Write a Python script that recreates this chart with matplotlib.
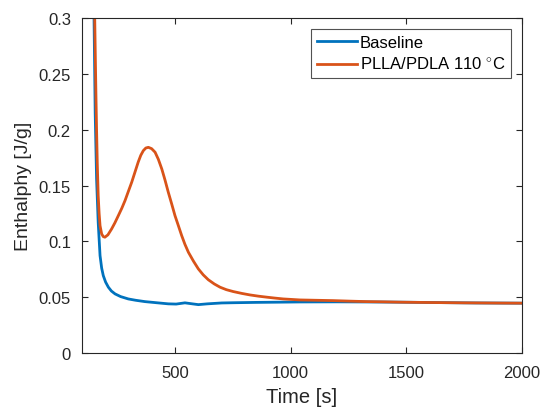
import numpy as np
import matplotlib
matplotlib.use("Agg")
from matplotlib import pyplot as plt

# values
base_t = [150, 155, 161, 168, 176, 183, 190, 200, 212, 225, 241, 265, 298, 330, 370, 420, 471,
          505, 543, 575, 601, 640, 702, 752, 850, 950, 1040, 1200, 1329, 1473, 1650, 1800, 2000]
base_h = [0.30, 0.215, 0.156, 0.117, 0.0872, 0.076, 0.0693, 0.0635, 0.0589, 0.0555, 0.0529,
          0.0505, 0.0484, 0.0472, 0.0460, 0.0450, 0.0440, 0.0438, 0.0449, 0.0440, 0.0433,
          0.0440, 0.0448, 0.0450, 0.0453, 0.0455, 0.0457, 0.0458, 0.0457, 0.0455, 0.0451,
          0.0448, 0.0446]

pl_t = [153, 156, 158.5, 161, 164, 168, 172, 176, 183, 190, 197, 210, 226, 240, 255, 270, 284,
        298, 313, 327, 341, 352, 363, 374, 385, 399, 414, 428, 443, 457, 471, 486, 500, 515, 529,
        543, 558, 580, 601, 622, 644, 670, 695, 722, 752, 790, 824, 860, 896, 930, 968, 1040,
        1110, 1184, 1260, 1329, 1400, 1473, 1600, 1750, 1900, 2000]
pl_h = [0.30, 0.26, 0.228, 0.200, 0.170, 0.141, 0.125, 0.114, 0.1066, 0.1042, 0.1037, 0.1058,
        0.1111, 0.1165, 0.123, 0.1296, 0.1365, 0.1445, 0.153, 0.162, 0.171, 0.177, 0.1812,
        0.1836, 0.1842, 0.1830, 0.1798, 0.1735, 0.1648, 0.1548, 0.144, 0.1333, 0.123, 0.1138,
        0.1051, 0.0973, 0.0902, 0.0822, 0.0753, 0.0700, 0.0656, 0.0618, 0.0589, 0.0567, 0.0550,
        0.0533, 0.0520, 0.0509, 0.0500, 0.0492, 0.0484, 0.0475, 0.0472, 0.0469, 0.0464, 0.0460,
        0.0458, 0.0455, 0.0452, 0.0449, 0.0447, 0.0446]

plt.rcParams['font.family'] = ['Liberation Sans', 'DejaVu Sans']
plt.rcParams['mathtext.fontset'] = 'custom'
plt.rcParams['mathtext.rm'] = 'Liberation Sans'

fig = plt.figure(figsize=(5.42, 4.14), dpi=100)
ax = fig.add_axes([0.1513, 0.145, 0.8117, 0.809])

ax.plot(base_t, base_h, color='#0072BD', lw=2, label='Baseline')
ax.plot(pl_t, pl_h, color='#D95319', lw=2, label=r'PLLA/PDLA 110 $^{\circ}$C')

ax.set_xlim(98, 2000)
ax.set_ylim(0, 0.3)
ax.set_xticks([500, 1000, 1500, 2000])
ax.set_yticks([0, 0.05, 0.1, 0.15, 0.2, 0.25, 0.3])
ax.set_yticklabels(['0', '0.05', '0.1', '0.15', '0.2', '0.25', '0.3'])
ax.tick_params(direction='in', top=True, right=True, labelsize=12, colors='#262626', length=4)
ax.tick_params(axis='x', pad=9)
ax.tick_params(axis='y', pad=8)
for s in ax.spines.values():
    s.set_color('#262626')
    s.set_linewidth(0.8)
ax.set_xlabel('Time [s]', fontsize=14.5, color='#262626', labelpad=5)
ax.set_ylabel('Enthalphy [J/g]', fontsize=14, color='#262626', labelpad=5)

leg = ax.legend(loc='upper right', fontsize=12, fancybox=False, edgecolor='#262626',
                handlelength=2.4, handletextpad=0.15, borderpad=0.35, labelspacing=0.35,
                borderaxespad=0, bbox_to_anchor=(0.975, 0.967))
leg.get_frame().set_linewidth(0.8)

fig.savefig('out.png', dpi=100)
